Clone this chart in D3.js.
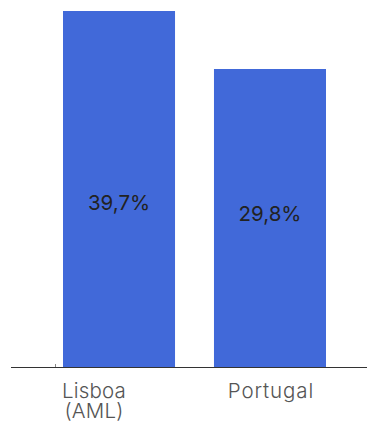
<!DOCTYPE html>
<html>
<head>
<meta charset="utf-8">
<script src="https://cdn.jsdelivr.net/npm/d3@7"></script>
<style>
    html, body { margin: 0; padding: 0; background: #fff; }
    svg { display: block; }
</style>
</head>
<body>
<svg id="chart" width="367" height="423"></svg>
<script>
// Data.
const categories = [['Lisboa', '(AML)'], ['Portugal']];
const values = [39.7, 29.8];
const valueLabels = ['39,7%', '29,8%'];
const Y_MAX = 35.6;

// Layout.
const W = 367;
const H = 423;
const BASE = 367;
const TOP = 11;
const BAR_COLOR = '#4169d9';
const labelDy = [14, -4];
const catDx = [-25, 1];

const svg = d3.select('#chart');

const x = d3.scaleBand()
    .domain(categories.map((d, i) => i))
    .range([63, 326])
    .paddingInner(0.258)
    .paddingOuter(0);

const y = d3.scaleLinear()
    .domain([0, Y_MAX])
    .range([BASE, TOP]);

svg.append('defs').append('clipPath')
    .attr('id', 'plot-clip')
    .append('rect')
    .attr('x', 0)
    .attr('y', TOP)
    .attr('width', W)
    .attr('height', BASE - TOP);

// Bars.
svg.append('g')
    .attr('clip-path', 'url(#plot-clip)')
    .selectAll('rect')
    .data(values)
    .join('rect')
    .attr('x', (d, i) => x(i))
    .attr('y', d => y(d))
    .attr('width', x.bandwidth())
    .attr('height', d => BASE - y(d))
    .attr('fill', BAR_COLOR);

// Value labels, middle of the visible bar.
svg.append('g')
    .selectAll('text')
    .data(values)
    .join('text')
    .attr('x', (d, i) => x(i) + x.bandwidth() / 2)
    .attr('y', (d, i) => (y(Math.min(d, Y_MAX)) + BASE) / 2 + labelDy[i])
    .attr('dy', '0.35em')
    .attr('text-anchor', 'middle')
    .attr('font-family', 'Inter, "Open Sans", sans-serif')
    .attr('font-size', 20.5)
    .attr('fill', '#222')
    .text((d, i) => valueLabels[i]);

// Axis line.
svg.append('line')
    .attr('x1', 11)
    .attr('x2', W)
    .attr('y1', BASE + 0.5)
    .attr('y2', BASE + 0.5)
    .attr('stroke', '#333')
    .attr('stroke-width', 1.2);

svg.append('line')
    .attr('x1', 55.5)
    .attr('x2', 55.5)
    .attr('y1', BASE - 3)
    .attr('y2', BASE)
    .attr('stroke', '#888')
    .attr('stroke-width', 1);

// Category labels, one text per line.
categories.forEach((lines, i) => {
    svg.append('g')
        .selectAll('text')
        .data(lines)
        .join('text')
        .attr('x', x(i) + x.bandwidth() / 2 + catDx[i])
        .attr('y', (d, j) => 397.5 + j * 20.5)
        .attr('text-anchor', 'middle')
        .attr('font-family', 'Inter, "Open Sans", sans-serif')
        .attr('font-size', 20.5)
        .attr('font-weight', 300)
        .attr('letter-spacing', i === 1 ? 0.9 : 0.2)
        .attr('fill', '#555')
        .text(d => d);
});
</script>
</body>
</html>
